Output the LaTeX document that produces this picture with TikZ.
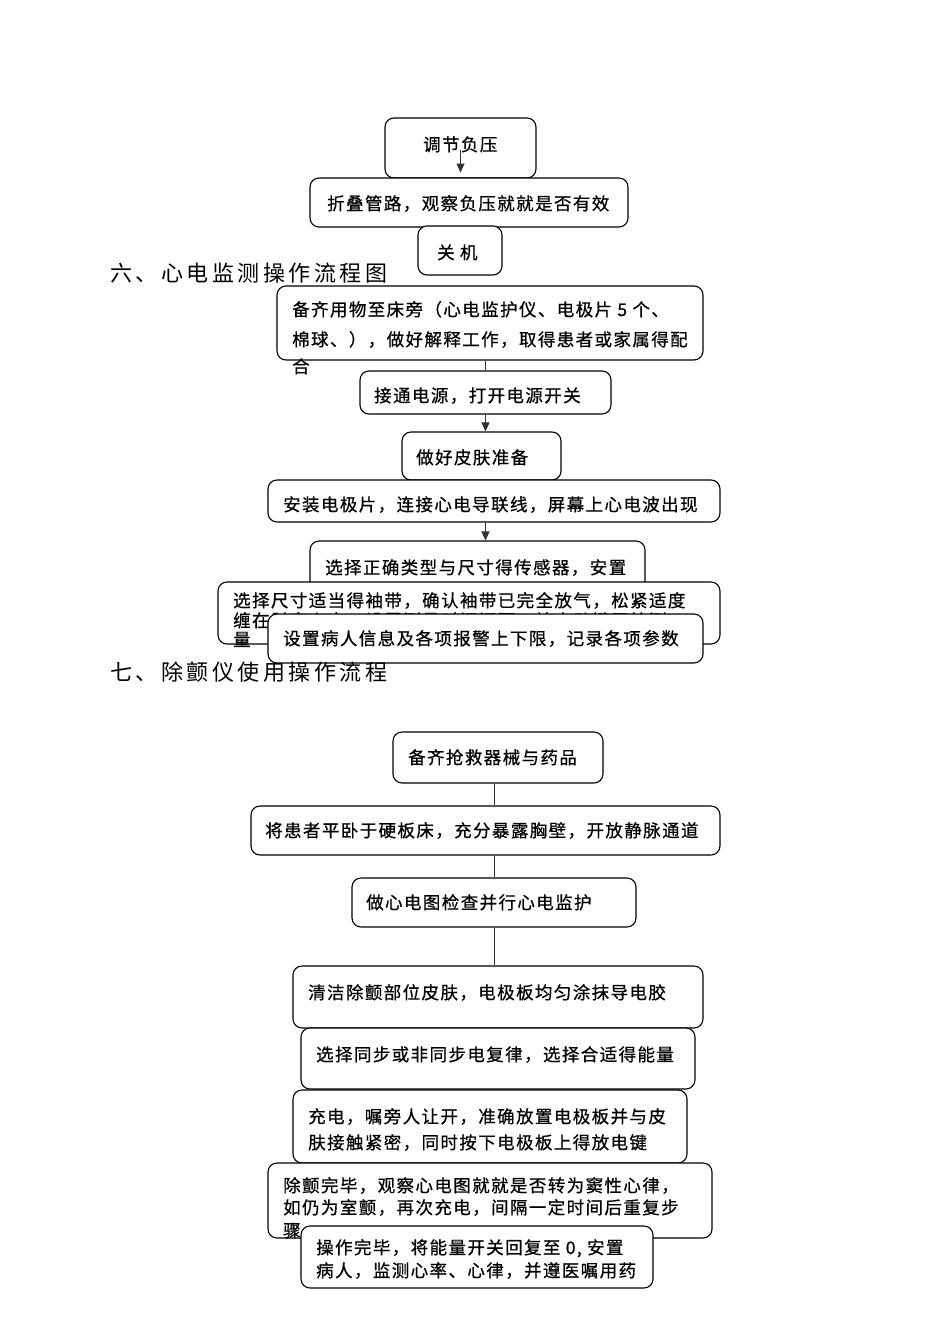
\documentclass[tikz,border=0pt]{standalone}
\usepackage{fontspec}
\setmainfont{Noto Sans CJK SC}[LetterSpace=8,FakeBold=0.6]
\newfontfamily\hfont{Noto Sans CJK SC}[LetterSpace=16]
\usetikzlibrary{arrows.meta}
\begin{document}
\begin{tikzpicture}[x=1pt,y=-1pt,
  box/.style={draw=black,line width=1.1pt,rounded corners=9pt,fill=white,inner sep=0pt,minimum width=#1},
  txt/.style={anchor=base west,inner sep=0pt,font=\fontsize{17.5}{20}\selectfont},
  head/.style={anchor=base west,inner sep=0pt,font=\hfont\fontsize{22}{24}\selectfont},
  conn/.style={line width=1pt,draw=black!80},
  arr/.style={conn,-{Triangle[width=8pt,length=9pt]}}]
\useasboundingbox[fill=white] (0,0) rectangle (950,1344);
% ---- top part
\node[box=151pt,minimum height=60pt] (b1) at (460.5,148) {};
\node[txt] (t1) at (423,151) {调节负压};
\draw[arr,shorten <=2pt,shorten >=6pt] (b1.center) -- (b1.south);
\node[box=318pt,minimum height=49pt] (b2) at (469,202.5) {};
\node[txt] (t2) at (327,210) {折叠管路，观察负压就就是否有效};
\node[box=84pt,minimum height=49pt] (b3) at (460,250.5) {};
\node[txt] (t3) at (437,259) {关 机};
\node[head] (h1) at (110,281) {六、心电监测操作流程图};
% ---- ECG monitoring
\node[box=426pt,minimum height=74pt] (b4) at (490,323) {};
\node[txt] (t4a) at (292,316) {备齐用物至床旁（心电监护仪、电极片 5 个、};
\node[txt] (t4b) at (292,346) {棉球、），做好解释工作，取得患者或家属得配};
\node[txt] (t4c) at (292,373) {合};
\node[box=251pt,minimum height=43pt] (b5) at (485.5,392.5) {};
\node[txt] (t5) at (374,402) {接通电源，打开电源开关};
\draw[conn] (b5.north) -- (b5.north |- b4.south);
\node[box=159pt,minimum height=48pt] (b6) at (481.5,456) {};
\node[txt] (t6) at (416,464) {做好皮肤准备};
\draw[arr] (b5.south) -- (b5.south |- b6.north);
\node[box=452pt,minimum height=42pt] (b7) at (494,501) {};
\node[txt] (t7) at (283,511) {安装电极片，连接心电导联线，屏幕上心电波出现};
\node[box=335pt,minimum height=69pt] (b8) at (477.5,575.5) {};
\node[txt] (t8) at (325,574) {选择正确类型与尺寸得传感器，安置};
\draw[arr] (b7.south -| b5.south) -- (b8.north -| b5.south);
\node[box=502pt,minimum height=62pt] (b9) at (469,613) {};
\node[txt] (t9a) at (233,607) {选择尺寸适当得袖带，确认袖带已完全放气，松紧适度};
\node[txt] (t9b) at (233,627) {缠在肘窝上方，设置测量时间间隔，按启动键开始测};
\node[txt] (t9c) at (233,646) {量};
\node[box=435pt,minimum height=49pt] (b10) at (485.5,638.5) {};
\node[txt] (t10) at (283,645) {设置病人信息及各项报警上下限，记录各项参数};
\node[head] (h2) at (110,680) {七、除颤仪使用操作流程};
% ---- defibrillator
\node[box=210pt,minimum height=51pt] (b11) at (498,757.5) {};
\node[txt] (t11) at (408,764) {备齐抢救器械与药品};
\node[box=469pt,minimum height=49pt] (b12) at (485.5,830.5) {};
\node[txt] (t12) at (265,837) {将患者平卧于硬板床，充分暴露胸壁，开放静脉通道};
\node[box=284pt,minimum height=49pt] (b13) at (494,902.5) {};
\node[txt] (t13) at (366,909) {做心电图检查并行心电监护};
\draw[conn] (b11.south -| b13.north) -- (b12.north -| b13.north);
\draw[conn] (b12.south -| b13.north) -- (b13.north);
\node[box=410pt,minimum height=62pt] (b14) at (498,997) {};
\node[txt] (t14) at (308,999) {清洁除颤部位皮肤，电极板均匀涂抹导电胶};
\draw[conn] (b13.south) -- (b13.south |- b14.north);
\node[box=394pt,minimum height=61pt] (b15) at (498,1058.5) {};
\node[txt] (t15) at (316,1061) {选择同步或非同步电复律，选择合适得能量};
\node[box=394pt,minimum height=73pt] (b16) at (490,1126.5) {};
\node[txt] (t16a) at (308,1123) {充电，嘱旁人让开，准确放置电极板并与皮};
\node[txt] (t16b) at (308,1149) {肤接触紧密，同时按下电极板上得放电键};
\node[box=444pt,minimum height=75pt] (b17) at (490,1200.5) {};
\node[txt] (t17a) at (283,1192) {除颤完毕，观察心电图就就是否转为窦性心律，};
\node[txt] (t17b) at (283,1214) {如仍为室颤，再次充电，间隔一定时间后重复步};
\node[txt] (t17c) at (283,1237) {骤};
\node[box=352pt,minimum height=62pt] (b18) at (477,1257) {};
\node[txt] (t18a) at (316,1254) {操作完毕，将能量开关回复至 0, 安置};
\node[txt] (t18b) at (316,1277) {病人，监测心率、心律，并遵医嘱用药};
\end{tikzpicture}
\end{document}
